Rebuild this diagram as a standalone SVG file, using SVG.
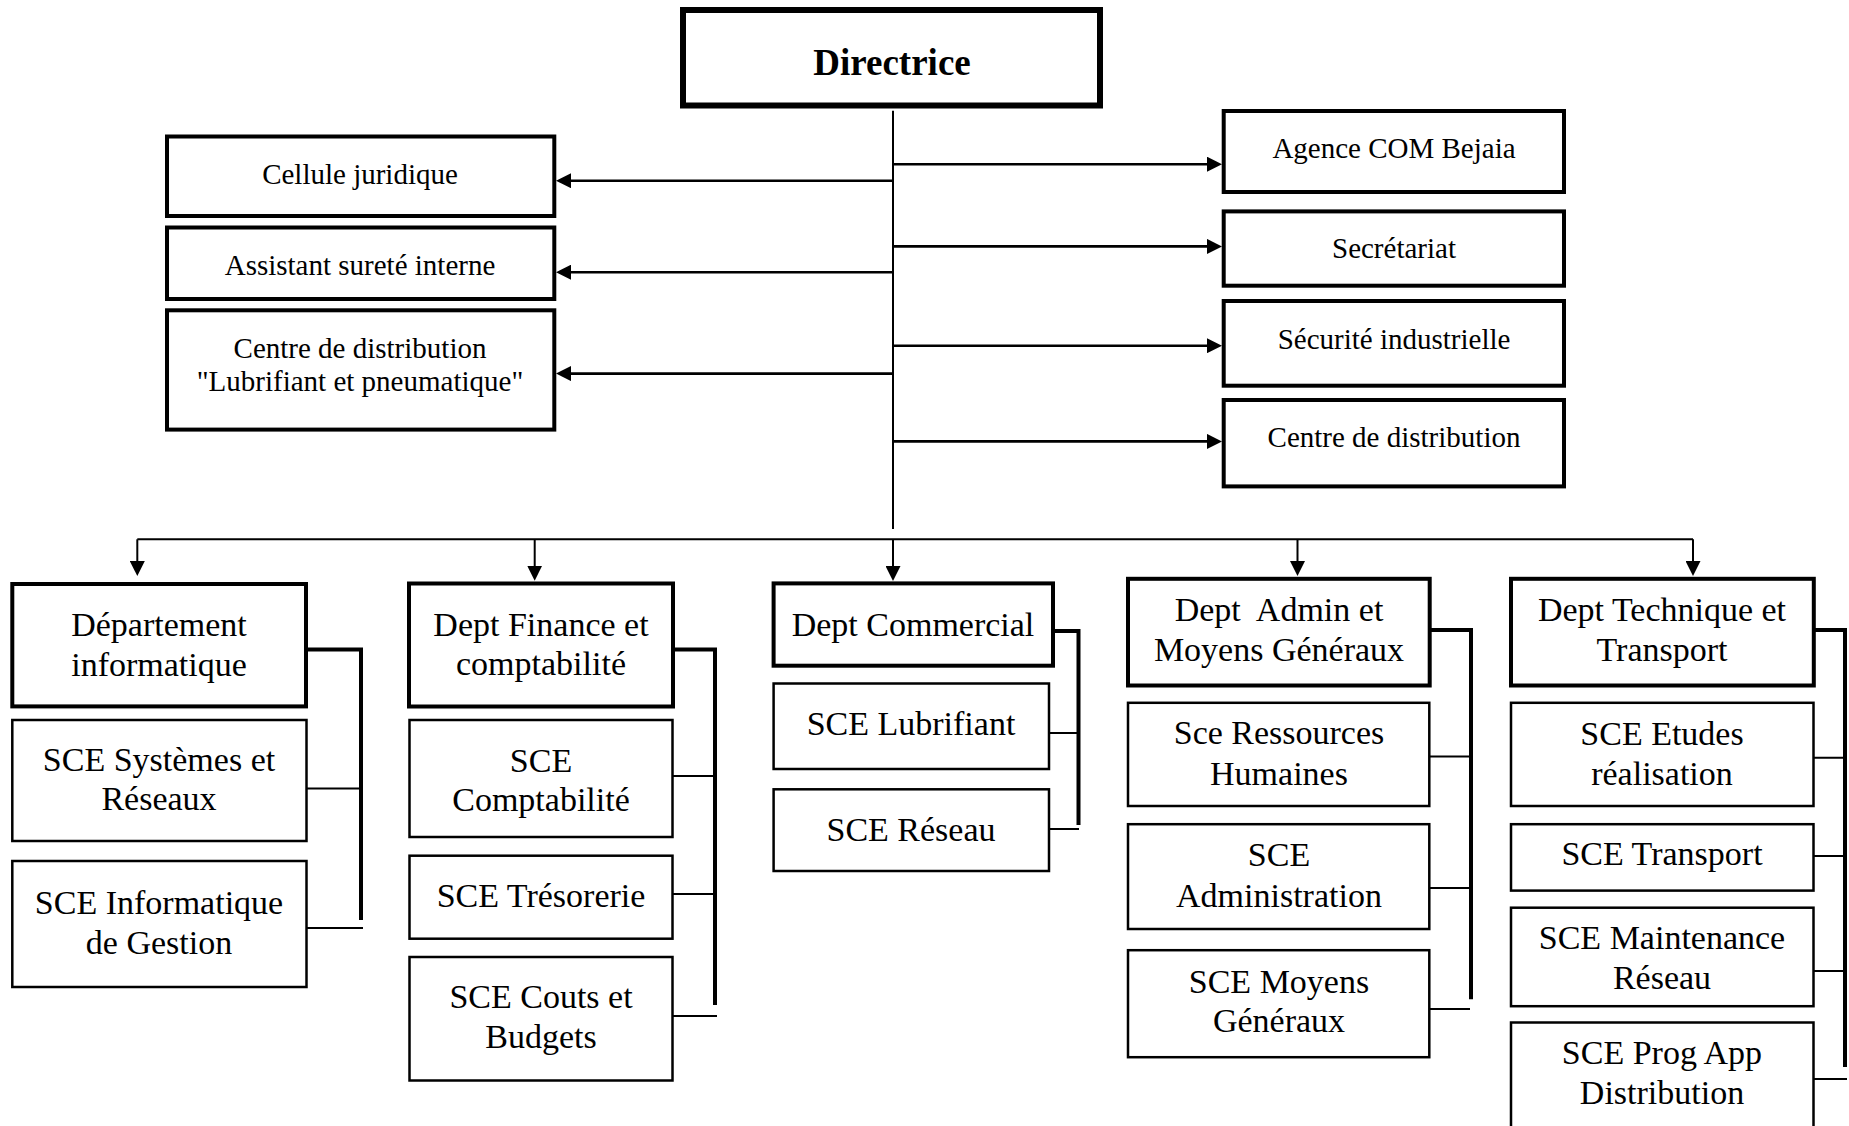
<svg xmlns="http://www.w3.org/2000/svg" width="1849" height="1126" viewBox="0 0 1849 1126">
<style>
  rect { fill: #fff; stroke: #000; }
  .bm { stroke-width: 6; }
  .bt { stroke-width: 4; }
  .bd { stroke-width: 4; }
  .bs { stroke-width: 2.5; }
  text { font-family: "Liberation Serif", "Times New Roman", serif; fill: #000; text-anchor: middle; }
  .tm { font-size: 37px; font-weight: bold; }
  .tt { font-size: 29px; }
  .tb { font-size: 34px; }
  .pre { white-space: pre; }
  .c { stroke: #000; fill: none; }
  .ca { stroke-width: 2.6; }
  .cn { stroke-width: 2; }
  .ck { stroke-width: 4; stroke-linejoin: miter; }
</style>
<defs>
  <marker id="ah" markerUnits="userSpaceOnUse" markerWidth="15" markerHeight="15" refX="0.5" refY="7.5" orient="auto">
    <path d="M0,0 L15,7.5 L0,15 Z" fill="#000"/>
  </marker>
</defs>

<g id="connectors">
  <path class="c cn" d="M893,110.7 V529"/>
  <path class="c ca" d="M893,180.7 H570.5" marker-end="url(#ah)"/>
  <path class="c ca" d="M893,272.2 H570.5" marker-end="url(#ah)"/>
  <path class="c ca" d="M893,373.6 H570.5" marker-end="url(#ah)"/>
  <path class="c ca" d="M893,164.2 H1207.5" marker-end="url(#ah)"/>
  <path class="c ca" d="M893,246.4 H1207.5" marker-end="url(#ah)"/>
  <path class="c ca" d="M893,345.7 H1207.5" marker-end="url(#ah)"/>
  <path class="c ca" d="M893,441.4 H1207.5" marker-end="url(#ah)"/>
  <path class="c cn" d="M137.3,539.3 H1693"/>
  <path class="c cn" d="M137.3,539.3 V561.5" marker-end="url(#ah)"/>
  <path class="c cn" d="M534.7,539.3 V566.2" marker-end="url(#ah)"/>
  <path class="c cn" d="M893,539.3 V566.5" marker-end="url(#ah)"/>
  <path class="c cn" d="M1297.5,539.3 V561.5" marker-end="url(#ah)"/>
  <path class="c cn" d="M1693,539.3 V561.5" marker-end="url(#ah)"/>
  <path class="c ck" d="M306,649.5 H361 V920"/>
  <path class="c cn" d="M306,788.6 H361 M306,928 H363"/>
  <path class="c ck" d="M673,649.5 H715 V1005"/>
  <path class="c cn" d="M672.5,776 H715 M672.5,894 H715 M672.5,1016 H717"/>
  <path class="c ck" d="M1053,631 H1078.5 V825"/>
  <path class="c cn" d="M1049,733 H1078.5 M1049,829 H1079"/>
  <path class="c ck" d="M1429.7,630 H1471 V999.3"/>
  <path class="c cn" d="M1429.3,756.6 H1471 M1429.3,888 H1471 M1429.3,1009 H1470"/>
  <path class="c ck" d="M1813.8,630 H1845 V1067"/>
  <path class="c cn" d="M1813.5,757.7 H1845 M1813.5,856 H1845 M1813.5,971 H1845 M1813.5,1079 H1847"/>
</g>

<g id="directrice">
  <rect class="bm" x="683" y="10" width="417" height="95.5"/>
  <text class="tm" x="892" y="75">Directrice</text>
</g>

<g id="cellule-juridique">
  <rect class="bt" x="167" y="136.5" width="387.3" height="79.5"/>
  <text class="tt" x="360" y="184">Cellule juridique</text>
</g>
<g id="assistant-surete">
  <rect class="bt" x="167" y="227.5" width="387.3" height="71.5"/>
  <text class="tt" x="360" y="275">Assistant sureté interne</text>
</g>
<g id="centre-lubrifiant">
  <rect class="bt" x="167" y="310.3" width="387.3" height="119.3"/>
  <text class="tt" x="360" y="358">Centre de distribution</text>
  <text class="tt" x="360" y="391">"Lubrifiant et pneumatique"</text>
</g>

<g id="agence-com">
  <rect class="bt" x="1223.7" y="111" width="340.3" height="81"/>
  <text class="tt" x="1394" y="158">Agence COM Bejaia</text>
</g>
<g id="secretariat">
  <rect class="bt" x="1223.7" y="211.4" width="340.3" height="74.3"/>
  <text class="tt" x="1394" y="258">Secrétariat</text>
</g>
<g id="securite">
  <rect class="bt" x="1223.7" y="301" width="340.3" height="84.7"/>
  <text class="tt" x="1394" y="349">Sécurité industrielle</text>
</g>
<g id="centre-distribution">
  <rect class="bt" x="1223.7" y="400" width="340.3" height="86.4"/>
  <text class="tt" x="1394" y="447">Centre de distribution</text>
</g>

<g id="dept-informatique">
  <rect class="bd" x="12.3" y="584" width="293.7" height="122.4"/>
  <text class="tb" x="159" y="636">Département</text>
  <text class="tb" x="159" y="676">informatique</text>
</g>
<g id="sce-systemes">
  <rect class="bs" x="12.3" y="720" width="294.2" height="121"/>
  <text class="tb" x="159" y="771">SCE Systèmes et</text>
  <text class="tb" x="159" y="810">Réseaux</text>
</g>
<g id="sce-informatique">
  <rect class="bs" x="12.3" y="861" width="294.2" height="126"/>
  <text class="tb" x="159" y="913.5">SCE Informatique</text>
  <text class="tb" x="159" y="953.5">de Gestion</text>
</g>

<g id="dept-finance">
  <rect class="bd" x="409" y="583.5" width="264" height="123"/>
  <text class="tb" x="541" y="636">Dept Finance et</text>
  <text class="tb" x="541" y="675">comptabilité</text>
</g>
<g id="sce-comptabilite">
  <rect class="bs" x="409.5" y="720" width="263" height="117"/>
  <text class="tb" x="541" y="772">SCE</text>
  <text class="tb" x="541" y="810.5">Comptabilité</text>
</g>
<g id="sce-tresorerie">
  <rect class="bs" x="409.5" y="855.7" width="263" height="83"/>
  <text class="tb" x="541" y="906.5">SCE Trésorerie</text>
</g>
<g id="sce-couts">
  <rect class="bs" x="409.5" y="957" width="263" height="123.5"/>
  <text class="tb" x="541" y="1008">SCE Couts et</text>
  <text class="tb" x="541" y="1047.5">Budgets</text>
</g>

<g id="dept-commercial">
  <rect class="bd" x="773.6" y="583.4" width="279.4" height="82.3"/>
  <text class="tb" x="913" y="636">Dept Commercial</text>
</g>
<g id="sce-lubrifiant">
  <rect class="bs" x="773.6" y="683.5" width="275.4" height="85.5"/>
  <text class="tb" x="911" y="734.5">SCE Lubrifiant</text>
</g>
<g id="sce-reseau">
  <rect class="bs" x="773.6" y="789.3" width="275.4" height="81.7"/>
  <text class="tb" x="911" y="841">SCE Réseau</text>
</g>

<g id="dept-admin">
  <rect class="bd" x="1128" y="578.8" width="301.7" height="106.7"/>
  <text class="tb pre" x="1279" y="621">Dept  Admin et</text>
  <text class="tb" x="1279" y="661">Moyens Généraux</text>
</g>
<g id="sce-rh">
  <rect class="bs" x="1128" y="702.8" width="301.3" height="103.2"/>
  <text class="tb" x="1279" y="744">Sce Ressources</text>
  <text class="tb" x="1279" y="785">Humaines</text>
</g>
<g id="sce-administration">
  <rect class="bs" x="1128" y="824.2" width="301.3" height="104.8"/>
  <text class="tb" x="1279" y="866">SCE</text>
  <text class="tb" x="1279" y="906.5">Administration</text>
</g>
<g id="sce-moyens">
  <rect class="bs" x="1128" y="950.2" width="301.3" height="107"/>
  <text class="tb" x="1279" y="992.5">SCE Moyens</text>
  <text class="tb" x="1279" y="1032">Généraux</text>
</g>

<g id="dept-technique">
  <rect class="bd" x="1511" y="578.8" width="302.8" height="106.7"/>
  <text class="tb" x="1662" y="621">Dept Technique et</text>
  <text class="tb" x="1662" y="661">Transport</text>
</g>
<g id="sce-etudes">
  <rect class="bs" x="1511" y="702.8" width="302.5" height="103.2"/>
  <text class="tb" x="1662" y="745">SCE Etudes</text>
  <text class="tb" x="1662" y="785">réalisation</text>
</g>
<g id="sce-transport">
  <rect class="bs" x="1511" y="824.2" width="302.5" height="66.4"/>
  <text class="tb" x="1662" y="865">SCE Transport</text>
</g>
<g id="sce-maintenance">
  <rect class="bs" x="1511" y="907.7" width="302.5" height="98.5"/>
  <text class="tb" x="1662" y="949">SCE Maintenance</text>
  <text class="tb" x="1662" y="989">Réseau</text>
</g>
<g id="sce-prog-app">
  <rect class="bs" x="1511" y="1022.5" width="302.5" height="120"/>
  <text class="tb" x="1662" y="1064">SCE Prog App</text>
  <text class="tb" x="1662" y="1103.5">Distribution</text>
</g>
</svg>
